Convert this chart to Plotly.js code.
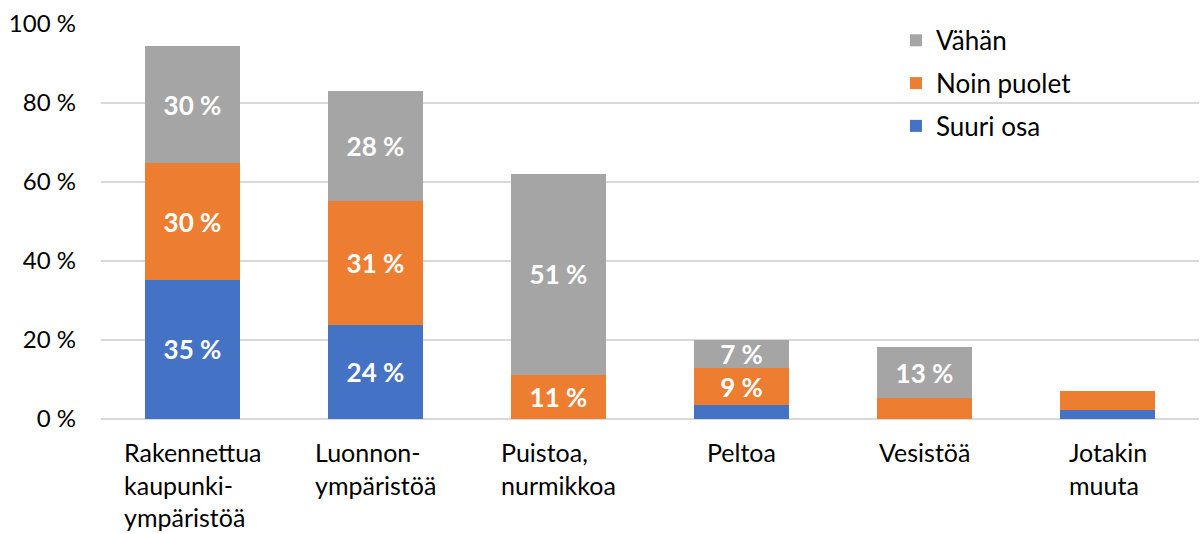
<!DOCTYPE html>
<html>
<head>
<meta charset="utf-8">
<script src="https://cdn.plot.ly/plotly-3.0.1.min.js"></script>
<style>
  html, body { margin: 0; padding: 0; background: #fff; }
  #chart { width: 1200px; height: 534px; }
</style>
</head>
<body>
<div id="chart"></div>
<script>
var categories = ['Rakennettua', 'Luonnon', 'Puistoa', 'Peltoa', 'Vesistöä', 'Jotakin'];
var catLabels = [
  'Rakennettua<br>kaupunki-<br>ympäristöä',
  'Luonnon-<br>ympäristöä',
  'Puistoa,<br>nurmikkoa',
  'Peltoa',
  'Vesistöä',
  'Jotakin<br>muuta'
];

var suuriOsa = [35.2, 23.8, 0, 3.5, 0, 2.3];
var noinPuolet = [29.5, 31.4, 11.1, 9.4, 5.3, 4.8];
var vahan = [29.8, 27.9, 51, 7.1, 12.9, 0];

function labels(vals) {
  return vals.map(function (v) { return v >= 7 ? Math.round(v) + ' %' : ''; });
}

var font = 'Lato, "Open Sans", sans-serif';

function barTrace(name, vals, color, rank) {
  return {
    x: categories,
    y: vals,
    name: name,
    legendgroup: name,
    legendrank: rank,
    type: 'bar',
    text: labels(vals),
    textposition: 'inside',
    insidetextanchor: 'middle',
    constraintext: 'none',
    textfont: { family: font, size: 26, color: '#ffffff', weight: 'bold' },
    hoverinfo: 'none',
    marker: { color: color }
  };
}

var data = [
  barTrace('Suuri osa', suuriOsa, '#4472C4', 3),
  barTrace('Noin puolet', noinPuolet, '#ED7D31', 2),
  barTrace('Vähän', vahan, '#A5A5A5', 1)
];

var annotations = categories.map(function (c, i) {
  return {
    x: c, xref: 'x',
    y: 0, yref: 'paper',
    yanchor: 'top', yshift: -16,
    xanchor: 'center', align: 'left',
    text: catLabels[i],
    showarrow: false,
    font: { family: font, size: 25, color: '#000' }
  };
});

var layout = {
  width: 1200,
  height: 534,
  margin: { l: 101, r: 1, t: 24, b: 115 },
  paper_bgcolor: '#fff',
  plot_bgcolor: '#fff',
  barmode: 'stack',
  bargap: 0.48,
  font: { family: font, size: 24, color: '#000' },
  showlegend: true,
  legend: {
    x: 0.724, y: 1.018, xanchor: 'left', yanchor: 'top',
    traceorder: 'grouped',
    bgcolor: 'rgba(0,0,0,0)',
    font: { family: font, size: 26, color: '#000' },
    itemwidth: 30,
    tracegroupgap: 6
  },
  xaxis: {
    type: 'category',
    showticklabels: false,
    showgrid: false,
    zeroline: false,
    showline: false,
    ticks: ''
  },
  yaxis: {
    range: [0, 100],
    tickvals: [0, 20, 40, 60, 80, 100],
    ticktext: ['0 %', '20 %', '40 %', '60 %', '80 %', '100 %'],
    showgrid: true,
    gridcolor: '#d9d9d9',
    gridwidth: 2,
    zeroline: true,
    zerolinecolor: '#d9d9d9',
    zerolinewidth: 2,
    showline: false,
    ticks: '',
    ticklabelstandoff: 24,
    tickfont: { family: font, size: 24, color: '#000' }
  },
  annotations: annotations
};

Plotly.newPlot('chart', data, layout, { displayModeBar: false, staticPlot: true });
</script>
</body>
</html>
